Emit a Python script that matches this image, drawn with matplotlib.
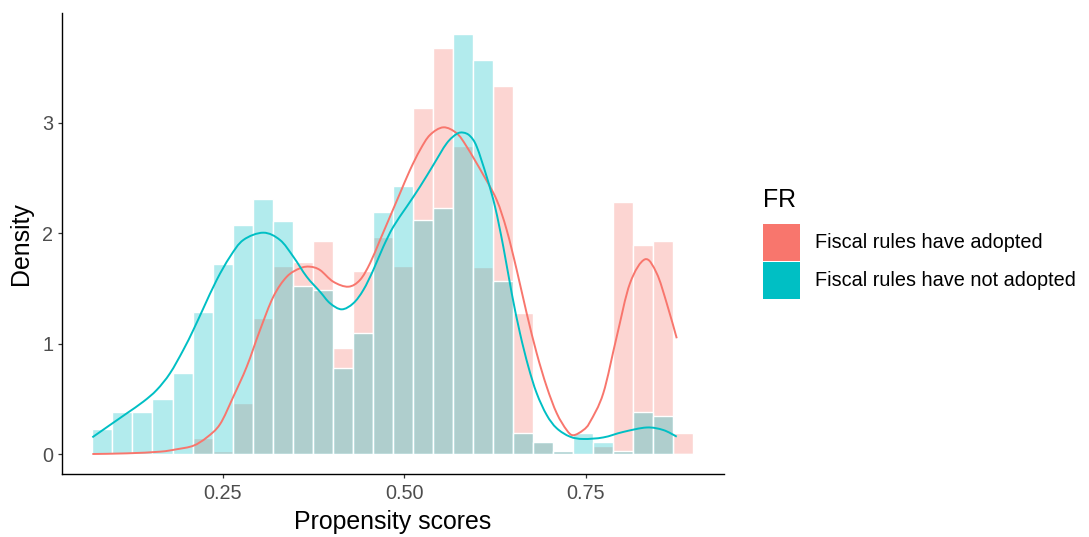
import numpy as np
import matplotlib
matplotlib.use("Agg")
import matplotlib.pyplot as plt
from matplotlib.patches import Rectangle, PathPatch
from matplotlib.path import Path

plt.rcParams['font.family'] = ['Liberation Sans', 'DejaVu Sans']

# ---------------- data ----------------
bin_start = 0.0705
bin_width = 0.02759
n_bins = 30

hist_adopted = [0.0, 0.0, 0.0, 0.0, 0.0, 0.145, 0.030, 0.459, 1.234, 1.700,
                1.739, 1.929, 0.963, 1.660, 1.968, 1.700, 3.136, 3.679, 2.789, 1.696,
                3.330, 1.274, 0.109, 0.030, 0.0, 0.070, 2.279, 1.893, 1.932, 0.190]
hist_not_adopted = [0.226, 0.383, 0.383, 0.501, 0.736, 1.286, 1.721, 2.074, 2.309, 2.110,
                    1.524, 1.488, 0.776, 1.093, 2.189, 2.427, 2.119, 2.230, 3.800, 3.565,
                    1.567, 0.187, 0.109, 0.030, 0.190, 0.109, 0.030, 0.383, 0.347, 0.0]

dens_adopted_x = [0.0704, 0.1178, 0.1636, 0.1866, 0.2095, 0.2280, 0.2463, 0.2646, 0.2831, 0.3014,
                  0.3197, 0.3382, 0.3565, 0.3702, 0.3840, 0.4023, 0.4230, 0.4391, 0.4529, 0.4667,
                  0.4804, 0.4942, 0.5080, 0.5218, 0.5355, 0.5539, 0.5723, 0.5861, 0.6090, 0.6274,
                  0.6412, 0.6550, 0.6687, 0.6825, 0.6963, 0.7101, 0.7238, 0.7329, 0.7467, 0.7559,
                  0.7742, 0.7927, 0.8110, 0.8317, 0.8478, 0.8616, 0.8754]
dens_adopted_y = [0.000, 0.006, 0.021, 0.043, 0.075, 0.150, 0.270, 0.519, 0.791, 1.123,
                  1.424, 1.605, 1.682, 1.696, 1.666, 1.560, 1.515, 1.576, 1.727, 1.938,
                  2.149, 2.361, 2.572, 2.753, 2.889, 2.958, 2.904, 2.783, 2.527, 2.300,
                  2.028, 1.666, 1.274, 0.912, 0.609, 0.369, 0.217, 0.170, 0.217, 0.290,
                  0.550, 1.062, 1.546, 1.763, 1.636, 1.365, 1.048]

dens_not_x = [0.0704, 0.0948, 0.1178, 0.1406, 0.1591, 0.1774, 0.1957, 0.2095, 0.2233, 0.2417,
              0.2601, 0.2784, 0.3059, 0.3289, 0.3472, 0.3657, 0.3840, 0.3978, 0.4139, 0.4299,
              0.4437, 0.4574, 0.4712, 0.4850, 0.5034, 0.5218, 0.5401, 0.5585, 0.5723, 0.5814,
              0.5906, 0.5999, 0.6136, 0.6251, 0.6365, 0.6481, 0.6595, 0.6710, 0.6825, 0.6963,
              0.7101, 0.7284, 0.7467, 0.7742, 0.8018, 0.8340, 0.8569, 0.8754]
dens_not_y = [0.151, 0.263, 0.368, 0.474, 0.580, 0.731, 0.942, 1.123, 1.319, 1.576,
              1.787, 1.938, 2.004, 1.938, 1.787, 1.605, 1.470, 1.365, 1.310, 1.365,
              1.485, 1.666, 1.877, 2.058, 2.239, 2.421, 2.617, 2.813, 2.898, 2.910,
              2.880, 2.783, 2.511, 2.239, 1.877, 1.455, 1.093, 0.791, 0.550, 0.353,
              0.233, 0.157, 0.136, 0.150, 0.200, 0.240, 0.217, 0.157]

x_ticks = [0.25, 0.50, 0.75]
x_tick_labels = ["0.25", "0.50", "0.75"]
y_ticks = [0, 1, 2, 3]
y_tick_labels = ["0", "1", "2", "3"]
legend_title = "FR"
group_labels = ["Fiscal rules have adopted", "Fiscal rules have not adopted"]
group_colors = ["#F8766D", "#00BFC4"]

# ---------------- figure ----------------
W, H = 1089, 537
fig = plt.figure(figsize=(W / 100, H / 100), dpi=100)
L, R, T, B = 61.7, 724.0, 12.7, 474.3
ax = fig.add_axes([L / W, 1 - B / H, (R - L) / W, (B - T) / H])

edges = bin_start + bin_width * np.arange(n_bins)
for heights, col in zip([hist_adopted, hist_not_adopted], group_colors):
    ax.bar(edges, heights, width=bin_width, align='edge',
           color=matplotlib.colors.to_rgba(col, 0.3),
           edgecolor='white', linewidth=1.0, zorder=2)


def smooth_curve_path(xs, ys):
    """Smooth (Catmull-Rom as cubic Bezier) path through the given points."""
    pts = np.column_stack([xs, ys]).astype(float)
    verts = [pts[0]]
    codes = [Path.MOVETO]
    n = len(pts)
    for i in range(n - 1):
        p0 = pts[i - 1] if i > 0 else pts[i]
        p1 = pts[i]
        p2 = pts[i + 1]
        p3 = pts[i + 2] if i + 2 < n else pts[i + 1]
        c1 = p1 + (p2 - p0) / 6.0
        c2 = p2 - (p3 - p1) / 6.0
        verts += [c1, c2, p2]
        codes += [Path.CURVE4] * 3
    return Path(verts, codes)


for xs, ys, col in [(dens_adopted_x, dens_adopted_y, group_colors[0]),
                    (dens_not_x, dens_not_y, group_colors[1])]:
    ax.add_patch(PathPatch(smooth_curve_path(xs, ys), facecolor='none',
                           edgecolor=col, lw=1.4, capstyle='butt',
                           joinstyle='round', zorder=3))

ax.set_xlim(0.0282, 0.9405)
ax.set_ylim(-0.1838, 3.996)

for s in ['top', 'right']:
    ax.spines[s].set_visible(False)
for s in ['left', 'bottom']:
    ax.spines[s].set_linewidth(1.0)
    ax.spines[s].set_color('black')

ax.set_xticks(x_ticks)
ax.set_xticklabels(x_tick_labels)
ax.set_yticks(y_ticks)
ax.set_yticklabels(y_tick_labels)
ax.tick_params(axis='both', length=3.0, width=0.9, color='#333333',
               labelcolor='#4D4D4D', labelsize=14.3)
ax.tick_params(axis='x', pad=4)
ax.tick_params(axis='y', pad=3)

ax.set_xlabel("Propensity scores", fontsize=17.9, color='black', labelpad=5)
ax.set_ylabel("Density", fontsize=17.9, color='black', labelpad=7)

# legend (drawn manually, ggplot style)
def fx(px):
    return px / W


def fy(py):
    return 1 - py / H


fig.text(fx(763), fy(200), legend_title, fontsize=17.9, ha='left', va='center')
key_tops = [223.5, 261.5]
key_h = 37
for top, col, lab in zip(key_tops, group_colors, group_labels):
    fig.add_artist(Rectangle((fx(763), fy(top + key_h)), 37 / W, key_h / H,
                             transform=fig.transFigure, facecolor=col,
                             edgecolor='none'))
    fig.text(fx(815), fy(top + key_h / 2), lab, fontsize=14.3, ha='left',
             va='center', color='black')

fig.savefig("out.png", dpi=100)
